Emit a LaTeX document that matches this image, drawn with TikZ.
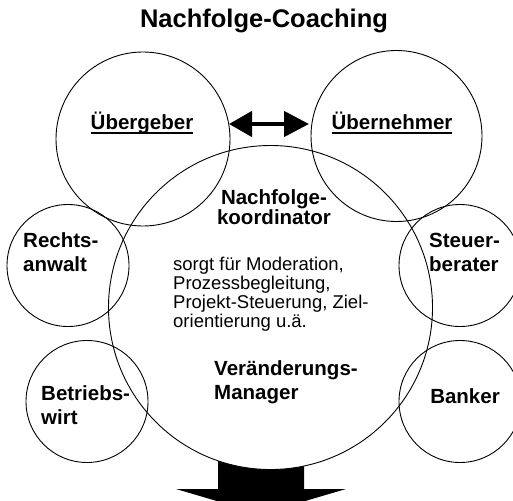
\documentclass[tikz,border=0pt]{standalone}
\usepackage{fontspec}
\setmainfont{Liberation Sans}
\usetikzlibrary{arrows.meta}
\newcommand\ulword[1]{\setbox0=\hbox{#1}\rlap{\rule[-5pt]{\wd0}{2.2pt}}\box0}
\begin{document}
\begin{tikzpicture}[x=1pt,y=-1pt,
  ring/.style={circle, draw, line width=0.9pt, inner sep=0pt, outer sep=0pt},
  boldtxt/.style={font=\fontsize{20.5}{24}\selectfont\bfseries, inner sep=0pt, align=left},
  bodytxt/.style={font=\fontsize{18.5}{19}\selectfont, inner sep=0pt, align=left},
  dblarrow/.style={line width=4.5pt, {Triangle[length=23pt,width=25pt]}-{Triangle[length=25pt,width=25pt]}}
]
\useasboundingbox (0,0) rectangle (513,500);
% bottom arrow (partly hidden by the big circle)
\fill (218,430) -- (218,489) -- (176,489) -- (261,514) -- (346,489) -- (304,489) -- (304,430) -- cycle;
% circles
\node[ring, fill=white, minimum size=324pt] (big) at (270.5,307.5) {};
\node[ring, minimum size=174pt] (cgeber) at (143,139) {};
\node[ring, minimum size=171pt] (cnehmer) at (396.5,136) {};
\node[ring, minimum size=122pt] (crecht) at (68,265.5) {};
\node[ring, minimum size=122pt] (csteuer) at (460,265.5) {};
\node[ring, minimum size=122pt] (cbetrieb) at (87,401.5) {};
\node[ring, minimum size=122pt] (cbank) at (460,401.5) {};
% double arrow
\coordinate (aL) at (229,124);
\coordinate (aR) at (309,124);
\draw[dblarrow] (aL) -- (aR);
% texts
\node[font=\fontsize{25.5}{30}\selectfont\bfseries, inner sep=0pt, anchor=base] (title) at (264,28) {Nachfolge-Coaching};
\node[boldtxt, anchor=base] (tgeber) at (142,129) {\ulword{Übergeber}};
\node[boldtxt, anchor=base] (tnehmer) at (392,129) {\ulword{Übernehmer}};
\node[boldtxt, align=center, font=\fontsize{20.5}{19.5}\selectfont\bfseries] (tkoord) at (274,207) {Nachfolge-\\koordinator};
\node[bodytxt, anchor=west] (tbody) at (173,294.5) {sorgt für Moderation,\\Prozessbegleitung,\\Projekt-Steuerung, Ziel-\\orientierung u.ä.};
\node[boldtxt, anchor=west] (tverand) at (214,382) {Veränderungs-\\Manager};
\node[boldtxt, anchor=west] (trecht) at (23,252) {Rechts-\\anwalt};
\node[boldtxt, anchor=west] (tsteuer) at (429,252) {Steuer-\\berater};
\node[boldtxt, anchor=west] (tbetrieb) at (41,405) {Betriebs-\\wirt};
\node[boldtxt] (tbank) at (465,396) {Banker};
\end{tikzpicture}
\end{document}
